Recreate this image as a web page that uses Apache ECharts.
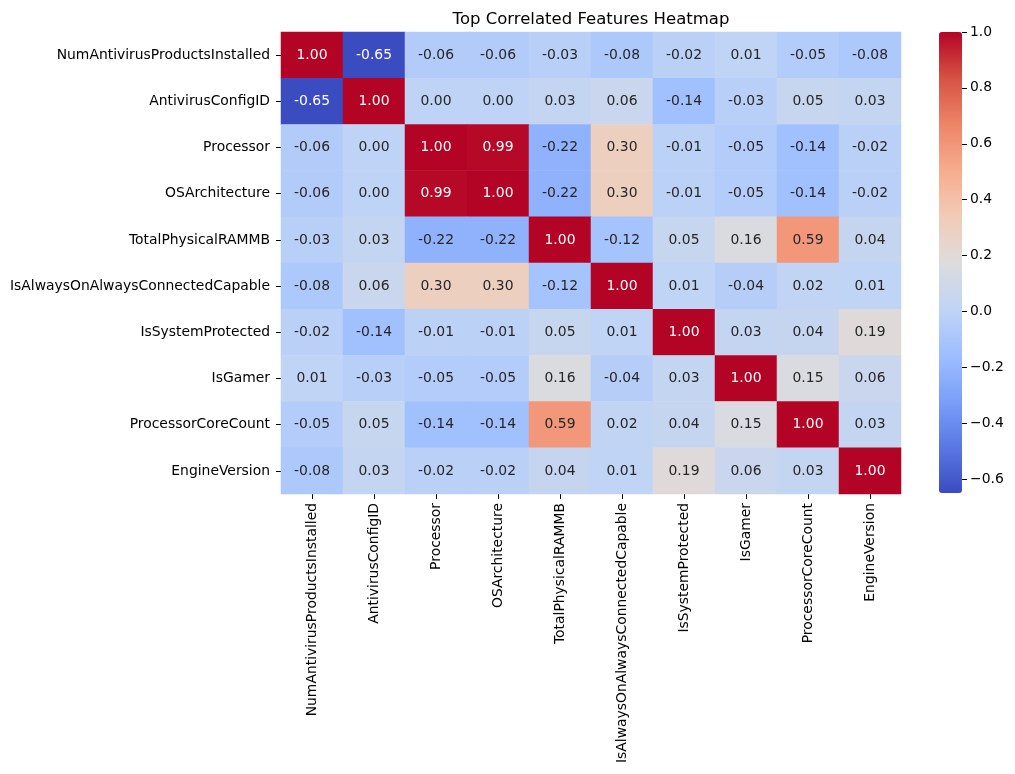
<!DOCTYPE html>
<html>
<head>
<meta charset="utf-8">
<script src="https://cdn.jsdelivr.net/npm/echarts@6/dist/echarts.min.js"></script>
<style>
  html, body { margin: 0; padding: 0; background: #fff; }
  #chart { width: 1015px; height: 774px; }
</style>
</head>
<body>
<div id="chart"></div>
<script>
// feature names, same order for rows and columns
var features = [
    'NumAntivirusProductsInstalled', 'AntivirusConfigID', 'Processor', 'OSArchitecture',
    'TotalPhysicalRAMMB', 'IsAlwaysOnAlwaysConnectedCapable', 'IsSystemProtected',
    'IsGamer', 'ProcessorCoreCount', 'EngineVersion'
];

// correlation matrix, one row per feature
var corr = [
    [ 1.00, -0.65, -0.06, -0.06, -0.03, -0.08, -0.02,  0.01, -0.05, -0.08],
    [-0.65,  1.00,  0.00,  0.00,  0.03,  0.06, -0.14, -0.03,  0.05,  0.03],
    [-0.06,  0.00,  1.00,  0.99, -0.22,  0.30, -0.01, -0.05, -0.14, -0.02],
    [-0.06,  0.00,  0.99,  1.00, -0.22,  0.30, -0.01, -0.05, -0.14, -0.02],
    [-0.03,  0.03, -0.22, -0.22,  1.00, -0.12,  0.05,  0.16,  0.59,  0.04],
    [-0.08,  0.06,  0.30,  0.30, -0.12,  1.00,  0.01, -0.04,  0.02,  0.01],
    [-0.02, -0.14, -0.01, -0.01,  0.05,  0.01,  1.00,  0.03,  0.04,  0.19],
    [ 0.01, -0.03, -0.05, -0.05,  0.16, -0.04,  0.03,  1.00,  0.15,  0.06],
    [-0.05,  0.05, -0.14, -0.14,  0.59,  0.02,  0.04,  0.15,  1.00,  0.03],
    [-0.08,  0.03, -0.02, -0.02,  0.04,  0.01,  0.19,  0.06,  0.03,  1.00]
];

// colorbar range and ticks
var vMin = -0.65, vMax = 1.0;
var cbarTicks = [-0.6, -0.4, -0.2, 0, 0.2, 0.4, 0.6, 0.8, 1.0];

// coolwarm samples
var coolwarm = ['#3b4cc0', '#5a78e4', '#7b9ff9', '#9ebeff', '#c0d4f5', '#dddcdc',
                '#f2cbb7', '#f7ac8e', '#ee8468', '#d65244', '#b40426'];

var FONT = 'DejaVu Sans';

var cells = [];
for (var i = 0; i < corr.length; i++) {
    for (var j = 0; j < corr[i].length; j++) {
        var v = corr[i][j];
        var dark = v >= 0.9 || v <= -0.5;
        cells.push({
            value: [j, i, v],
            label: { color: dark ? '#ffffff' : '#262626' }
        });
    }
}

function fmtMinus(v) {
    return v.toFixed(1).replace('-', '\u2212');
}

var myChart = echarts.init(document.getElementById('chart'));
var option = {
    animation: false,
    backgroundColor: '#fff',
    textStyle: { fontFamily: FONT },
    title: {
        text: 'Top Correlated Features Heatmap',
        left: 586,
        top: 6,
        textAlign: 'center',
        textStyle: { fontFamily: FONT, fontSize: 16.5, fontWeight: 'normal', color: '#000' }
    },
    grid: [
        { left: 281, top: 32, width: 620, height: 462 },
        { left: 939, top: 32, width: 23, height: 461 }
    ],
    xAxis: [
        {
            type: 'category',
            gridIndex: 0,
            data: features,
            position: 'bottom',
            axisLine: { show: false },
            axisTick: { show: true, alignWithLabel: true, length: 5, lineStyle: { color: '#000', width: 1 } },
            axisLabel: { rotate: 90, margin: 9, interval: 0, color: '#000', fontFamily: FONT, fontSize: 13.9 },
            splitLine: { show: false }
        },
        {
            type: 'category',
            gridIndex: 1,
            data: ['cb'],
            show: false
        }
    ],
    yAxis: [
        {
            type: 'category',
            gridIndex: 0,
            data: features,
            inverse: true,
            axisLine: { show: false },
            axisTick: { show: true, alignWithLabel: true, length: 5, lineStyle: { color: '#000', width: 1 } },
            axisLabel: { margin: 11, interval: 0, color: '#000', fontFamily: FONT, fontSize: 13.9 },
            splitLine: { show: false }
        },
        {
            type: 'value',
            gridIndex: 1,
            min: vMin,
            max: vMax,
            position: 'right',
            axisLine: { show: false },
            axisTick: { show: true, length: 5, customValues: cbarTicks, lineStyle: { color: '#000', width: 1 } },
            axisLabel: {
                customValues: cbarTicks,
                margin: 8,
                color: '#000',
                fontFamily: FONT,
                fontSize: 13.9,
                formatter: function (v) { return fmtMinus(v); }
            },
            splitLine: { show: false }
        }
    ],
    visualMap: {
        type: 'continuous',
        seriesIndex: 0,
        min: vMin,
        max: vMax,
        calculable: false,
        hoverLink: false,
        orient: 'vertical',
        left: 939,
        top: 32,
        padding: 0,
        itemWidth: 23,
        itemHeight: 461,
        text: null,
        showLabel: false,
        inRange: { color: coolwarm }
    },
    series: [
        {
            type: 'heatmap',
            xAxisIndex: 0,
            yAxisIndex: 0,
            data: cells,
            label: {
                show: true,
                fontFamily: FONT,
                fontSize: 13.9,
                formatter: function (p) { return p.value[2].toFixed(2); }
            },
            itemStyle: { borderWidth: 0 },
            emphasis: { disabled: true }
        },
        {
            type: 'line',
            xAxisIndex: 1,
            yAxisIndex: 1,
            data: [],
            silent: true
        }
    ]
};

myChart.setOption(option);
</script>
</body>
</html>
